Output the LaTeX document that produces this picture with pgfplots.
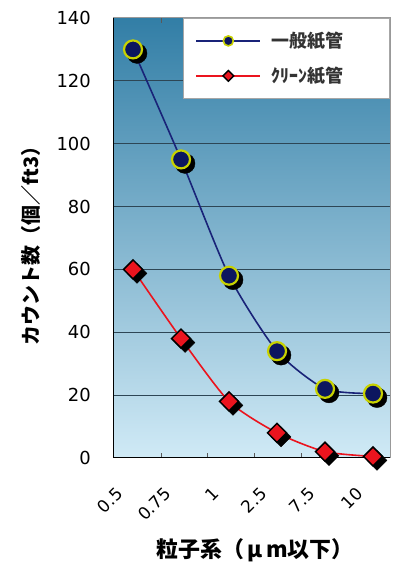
\documentclass[border=0pt]{standalone}
\usepackage{fontspec}
\setmainfont{DejaVu Sans}
\newfontfamily\cjk{Noto Sans CJK JP}
\usepackage{pgfplots}
\pgfplotsset{compat=1.18}
\definecolor{bgtop}{RGB}{50,126,166}
\definecolor{bgmid}{RGB}{125,184,214}
\definecolor{bgbot}{RGB}{208,234,246}
\definecolor{gridc}{RGB}{45,70,85}
\definecolor{navy}{RGB}{12,22,95}
\definecolor{navyline}{RGB}{25,35,120}
\definecolor{ylw}{RGB}{200,210,0}
\definecolor{redm}{RGB}{235,20,30}
\begin{document}
\begin{tikzpicture}
\useasboundingbox (0,0) rectangle (400bp,565bp);
\begin{axis}[
  at={(113bp,107bp)}, anchor=south west,
  scale only axis, width=277bp, height=440bp,
  xmin=-0.417, xmax=5.354, ymin=0, ymax=140,
  axis background/.style={top color=bgtop, middle color=bgmid, bottom color=bgbot},
  axis line style={draw=gray!80, line width=1bp},
  ytick={0,20,...,140},
  ymajorgrids, major grid style={draw=gridc, line width=1bp},
  ytick style={draw=none},
  xtick={0,...,5},
  xticklabels={0.5,0.75,1,2.5,7.5,10},
  major x tick style={draw=none},
  minor xtick={0.6,1.56,2.54,3.52},
  minor x tick style={draw=gray!70!black, line width=1bp},
  minor tick length=5bp,
  xtick align=inside,
  /pgf/number format/assume math mode=true,
  yticklabel style={font=\fontsize{18}{20}\selectfont, inner sep=0pt, anchor=east, xshift=-22bp},
  xticklabel style={font=\fontsize{17}{19}\selectfont, inner sep=0pt, xshift=-18bp, yshift=-28bp, rotate=45, anchor=north east},
  legend style={at={(rel axis cs:1,1)}, anchor=north east, draw=gray!70, fill=white,
    font=\cjk\bfseries\fontsize{18}{20}\selectfont, text=black!80, inner xsep=12bp, inner ysep=12bp, row sep=14bp, column sep=8bp, line width=0.8bp},
  legend cell align=left,
  legend image code/.code={\draw[mark repeat=2,mark phase=2,#1] plot coordinates {(0bp,0bp) (32bp,0bp) (64bp,0bp)};},
]
% shadows
\addplot[forget plot, only marks, mark=*, mark size=10bp, black, mark options={xshift=4bp, yshift=-4bp}]
  coordinates {(0,130) (1,95) (2,58) (3,34) (4,22) (5,20.5)};
\addplot[forget plot, only marks, mark=square*, mark size=7bp, black, mark options={xshift=4bp, yshift=-4bp, rotate=45}]
  coordinates {(0,60) (1,38) (2,18) (3,8) (4,2) (5,0.5)};
% lines
\addplot[forget plot, navyline, line width=1.6bp, smooth, tension=0.4]
  coordinates {(0,130) (1,95) (2,58) (3,34) (4,22) (5,20.5)};
\addplot[forget plot, redm, line width=1.6bp, smooth, tension=0.4]
  coordinates {(0,60) (1,38) (2,18) (3,8) (4,2) (5,0.5)};
% marks
\addplot[forget plot, only marks, mark=*, mark size=9bp, mark options={fill=navy, draw=ylw, line width=2.2bp}]
  coordinates {(0,130) (1,95) (2,58) (3,34) (4,22) (5,20.5)};
\addplot[forget plot, only marks, mark=square*, mark size=6.7bp, mark options={fill=redm, draw=black, line width=1.5bp, rotate=45}]
  coordinates {(0,60) (1,38) (2,18) (3,8) (4,2) (5,0.5)};
\addlegendimage{navyline, line width=2.5bp, mark=*, mark size=5bp, mark options={fill=navy, draw=ylw, line width=1.6bp}}
\addlegendentry{\makebox[104bp][l]{一般紙管}}
\addlegendimage{redm, line width=2.5bp, mark=square*, mark size=3.8bp, mark options={fill=redm, draw=black, line width=1.3bp, rotate=45}}
\addlegendentry{\makebox[104bp][l]{ｸﾘｰﾝ紙管}}
\draw[black, line width=2bp] (rel axis cs:0,1) -- (rel axis cs:0,0) -- (rel axis cs:1,0);
\end{axis}
\node[rotate=90, font=\cjk\bfseries\fontsize{20}{22}\selectfont] at (31bp,324bp) {カウント数（個／ft3）};
\node[font=\cjk\bfseries\fontsize{22}{24}\selectfont] at (255bp,15bp) {粒子系（\makebox[1em]{μ}\makebox[1em]{m}以下）};
\end{tikzpicture}
\end{document}
